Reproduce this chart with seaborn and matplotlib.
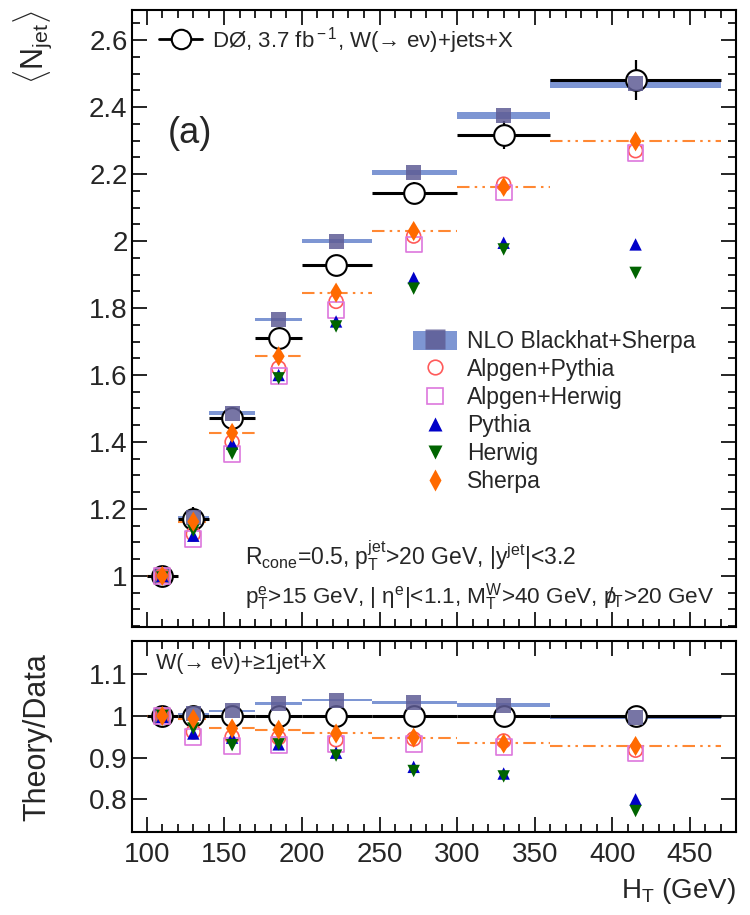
import numpy as np
import pandas as pd
import matplotlib
matplotlib.use("Agg")
import matplotlib.pyplot as plt
import seaborn as sns
from matplotlib.lines import Line2D
from matplotlib.patches import Patch
from matplotlib.ticker import MultipleLocator, FuncFormatter

# ---------------- data ----------------
bin_lo = [100, 120, 140, 170, 200, 245, 300, 360]
bin_hi = [120, 140, 170, 200, 245, 300, 360, 470]
ht_center = [110, 130, 155, 185, 222, 272, 330, 415]

# top panel: <N_jet>
data_val = [1.0, 1.17, 1.471, 1.711, 1.928, 2.145, 2.316, 2.482]
data_err = [0.008, 0.035, 0.03, 0.025, 0.03, 0.03, 0.042, 0.06]
nlo_val = [1.0, 1.175, 1.486, 1.765, 2.0, 2.206, 2.376, 2.471]
nlo_band = [0.006, 0.010, 0.010, 0.010, 0.010, 0.015, 0.021, 0.025]
alpgen_pythia = [1.0, 1.125, 1.40, 1.621, 1.82, 2.015, 2.17, 2.27]
alpgen_herwig = [1.0, 1.11, 1.365, 1.596, 1.795, 1.99, 2.145, 2.262]
pythia = [1.0, 1.12, 1.395, 1.60, 1.76, 1.89, 1.995, 1.99]
herwig = [0.995, 1.135, 1.365, 1.59, 1.745, 1.858, 1.975, 1.905]
sherpa = [1.0, 1.162, 1.427, 1.656, 1.846, 2.03, 2.162, 2.298]

# bottom panel: Theory/Data
r_data = [1.0, 1.0, 1.0, 1.0, 1.0, 1.0, 1.0, 1.0]
r_data_err = [0.005, 0.017, 0.015, 0.012, 0.012, 0.012, 0.015, 0.022]
r_nlo = [1.0, 1.005, 1.012, 1.03, 1.038, 1.032, 1.026, 0.997]
r_nlo_band = [0.003, 0.004, 0.004, 0.005, 0.005, 0.006, 0.008, 0.008]
r_alpgen_pythia = [1.0, 0.962, 0.95, 0.948, 0.943, 0.945, 0.94, 0.918]
r_alpgen_herwig = [1.0, 0.95, 0.928, 0.93, 0.933, 0.932, 0.925, 0.91]
r_pythia = [0.998, 0.958, 0.948, 0.932, 0.912, 0.878, 0.862, 0.80]
r_herwig = [1.0, 0.97, 0.93, 0.932, 0.905, 0.868, 0.855, 0.772]
r_sherpa = [1.0, 0.993, 0.97, 0.967, 0.958, 0.948, 0.934, 0.928]

top_yticks = [1.0, 1.2, 1.4, 1.6, 1.8, 2.0, 2.2, 2.4, 2.6]
bot_yticks = [0.8, 0.9, 1.0, 1.1]
x_ticks = [100, 150, 200, 250, 300, 350, 400, 450]

# ---------------- style ----------------
sns.set_style("ticks")
plt.rcParams["font.family"] = ["Liberation Sans", "DejaVu Sans"]
plt.rcParams["mathtext.fontset"] = "custom"
plt.rcParams["mathtext.rm"] = "Liberation Sans"
plt.rcParams["mathtext.it"] = "Liberation Sans:italic"
plt.rcParams["mathtext.bf"] = "Liberation Sans:bold"
plt.rcParams["axes.linewidth"] = 1.5
plt.rcParams["axes.edgecolor"] = "black"

C_NLO_BAND = "#7e96d3"
C_NLO_MARK = "#5f5d95"
C_AP = "#ff5a5a"
C_AH = "#dd77dd"
C_PY = "#0000c8"
C_HW = "#006400"
C_SH = "#ff6a00"
SHERPA_LS = (0, (6, 2.5, 1.2, 2.5, 1.2, 2.5))

fig = plt.figure(figsize=(7.5, 9.15), dpi=100)
ax1 = fig.add_axes([0.1756, 0.315, 0.8057, 0.674])
ax2 = fig.add_axes([0.1756, 0.0904, 0.8057, 0.2091])

df_top = pd.DataFrame({"lo": bin_lo, "hi": bin_hi, "x": ht_center,
                       "data": data_val, "err": data_err, "nlo": nlo_val,
                       "band": nlo_band, "ap": alpgen_pythia, "ah": alpgen_herwig,
                       "py": pythia, "hw": herwig, "sh": sherpa})
df_bot = pd.DataFrame({"lo": bin_lo, "hi": bin_hi, "x": ht_center,
                       "data": r_data, "err": r_data_err, "nlo": r_nlo,
                       "band": r_nlo_band, "ap": r_alpgen_pythia, "ah": r_alpgen_herwig,
                       "py": r_pythia, "hw": r_herwig, "sh": r_sherpa})


def draw_panel(ax, df):
    widths = df["hi"] - df["lo"]
    # NLO band (total width = band)
    ax.bar(df["lo"], df["band"], bottom=df["nlo"] - df["band"] / 2, width=widths,
           align="edge", color=C_NLO_BAND, edgecolor="none", zorder=2)
    # Sherpa bin lines
    ax.hlines(df["sh"], df["lo"], df["hi"], colors=C_SH, linestyles=SHERPA_LS,
              linewidth=1.5, alpha=0.8, zorder=2.5)
    # data error bars
    ax.hlines(df["data"], df["lo"], df["hi"], colors="black", linewidth=2.2, zorder=3)
    ax.vlines(df["x"], df["data"] - df["err"], df["data"] + df["err"],
              colors="black", linewidth=1.6, zorder=3)
    # data markers
    sns.scatterplot(data=df, x="x", y="data", ax=ax, marker="o", s=222,
                    color="white", edgecolor="black", linewidth=1.5, zorder=4,
                    legend=False)
    # NLO squares
    sns.scatterplot(data=df, x="x", y="nlo", ax=ax, marker="s", s=117,
                    color=C_NLO_MARK, edgecolor="none", alpha=0.85, zorder=5,
                    legend=False)
    # Alpgen+Pythia
    sns.scatterplot(data=df, x="x", y="ap", ax=ax, marker="o", s=100,
                    color=C_AP, facecolors="none", edgecolor=C_AP, linewidth=1.2,
                    zorder=6, legend=False)
    # Alpgen+Herwig
    sns.scatterplot(data=df, x="x", y="ah", ax=ax, marker="s", s=130,
                    color=C_AH, facecolors="none", edgecolor=C_AH, linewidth=1.2,
                    zorder=6, legend=False)
    # Pythia
    sns.scatterplot(data=df, x="x", y="py", ax=ax, marker="^", s=80,
                    color=C_PY, edgecolor="none", zorder=7, legend=False)
    # Herwig
    sns.scatterplot(data=df, x="x", y="hw", ax=ax, marker="v", s=80,
                    color=C_HW, edgecolor="none", zorder=7, legend=False)
    # Sherpa
    sns.scatterplot(data=df, x="x", y="sh", ax=ax, marker="d", s=105,
                    color=C_SH, edgecolor="none", zorder=8, legend=False)


draw_panel(ax1, df_top)
draw_panel(ax2, df_bot)

fmt = FuncFormatter(lambda v, p: f"{v:g}")
for ax in (ax1, ax2):
    ax.set_xlim(90.3, 479.7)
    ax.set_xticks(x_ticks)
    ax.xaxis.set_minor_locator(MultipleLocator(10))
    ax.tick_params(which="both", direction="in", top=True, right=True,
                   color="black", width=1.2)
    ax.tick_params(which="major", length=11, labelsize=20)
    ax.tick_params(which="minor", length=6)
    ax.tick_params(axis="y", which="major", pad=3)
    ax.tick_params(axis="x", which="major", pad=7)
    ax.yaxis.set_major_formatter(fmt)
    ax.set_xlabel("")
    ax.set_ylabel("")
    for s in ax.spines.values():
        s.set_visible(True)
        s.set_linewidth(1.5)

ax1.set_ylim(0.848, 2.69)
ax1.set_yticks(top_yticks)
ax1.yaxis.set_minor_locator(MultipleLocator(0.05))
ax1.tick_params(axis="x", labelbottom=False)

ax2.set_ylim(0.721, 1.18)
ax2.set_yticks(bot_yticks)
ax2.yaxis.set_minor_locator(plt.NullLocator())

# axis labels
ax1.set_ylabel(r"$\langle$N$_{\rm jet}\rangle$", fontsize=22, ha="right")
ax1.yaxis.set_label_coords(-0.128, 1.0)
ax2.set_ylabel("Theory/Data", fontsize=22)
ax2.yaxis.set_label_coords(-0.132, 0.5)
ax2.set_xlabel(r"H$_{\rm T}$ (GeV)", fontsize=20, ha="right")
ax2.xaxis.set_label_coords(1.0, -0.23)

# legend 1 (data)
h_data = Line2D([], [], color="black", linewidth=2.0, marker="o", markersize=14,
                markerfacecolor="white", markeredgecolor="black", markeredgewidth=1.5)
leg1 = ax1.legend([h_data], [r"DØ, 3.7 fb$^{\rm -1}$, W(→ eν)+jets+X"],
                  loc="center left", bbox_to_anchor=(0.045, 0.951),
                  frameon=False, fontsize=16, borderpad=0, borderaxespad=0,
                  handlelength=1.95, handletextpad=0.45)
ax1.add_artist(leg1)

# legend 2 (theory)
h_nlo = (Patch(facecolor=C_NLO_BAND, edgecolor="none"),
         Line2D([], [], linestyle="none", marker="s", markersize=14,
                markerfacecolor=C_NLO_MARK, markeredgecolor="none", alpha=0.85))
h_ap = Line2D([], [], linestyle="none", marker="o", markersize=10.5,
              markerfacecolor="none", markeredgecolor=C_AP, markeredgewidth=1.2)
h_ah = Line2D([], [], linestyle="none", marker="s", markersize=11,
              markerfacecolor="none", markeredgecolor=C_AH, markeredgewidth=1.2)
h_py = Line2D([], [], linestyle="none", marker="^", markersize=10,
              markerfacecolor=C_PY, markeredgecolor="none")
h_hw = Line2D([], [], linestyle="none", marker="v", markersize=10,
              markerfacecolor=C_HW, markeredgecolor="none")
h_sh = Line2D([], [], linestyle="none", marker="d", markersize=11,
              markerfacecolor=C_SH, markeredgecolor="none")
ax1.legend([h_nlo, h_ap, h_ah, h_py, h_hw, h_sh],
           ["NLO Blackhat+Sherpa", "Alpgen+Pythia", "Alpgen+Herwig",
            "Pythia", "Herwig", "Sherpa"],
           loc="upper left", bbox_to_anchor=(0.465, 0.481), frameon=False,
           fontsize=16.5, borderpad=0, borderaxespad=0, handlelength=1.95,
           handleheight=0.9, handletextpad=0.42, labelspacing=0.22)

# annotations
ax1.text(0.060, 0.80, "(a)", transform=ax1.transAxes, fontsize=26,
         ha="left", va="center")
ax1.text(0.1875, 0.116,
         r"R$_{\rm cone}$=0.5, p$_{\rm T}^{\rm jet}$>20 GeV, |y$^{\rm jet}$|<3.2",
         transform=ax1.transAxes, fontsize=16.5, ha="left", va="center")
ax1.text(0.1875, 0.048,
         r"p$_{\rm T}^{\rm e}$>15 GeV, | η$^{\rm e}$|<1.1, M$_{\rm T}^{\rm W}$>40 GeV, ${\rm p}\!\!\!/_{\rm T}$>20 GeV",
         transform=ax1.transAxes, fontsize=16.2, ha="left", va="center")
ax2.text(0.041, 0.88, "W(→ eν)+≥1jet+X", transform=ax2.transAxes, fontsize=15.5,
         ha="left", va="center")

fig.savefig("out.png", dpi=100)
